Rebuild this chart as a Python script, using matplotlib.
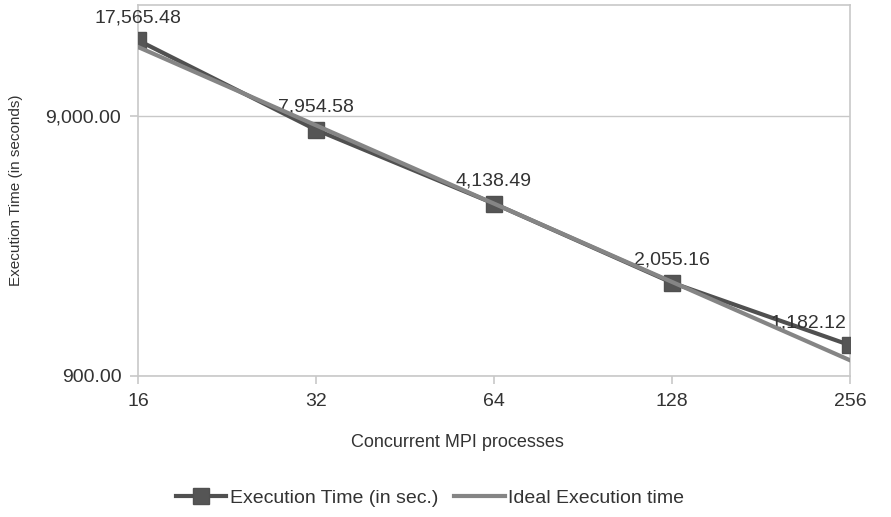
import matplotlib
matplotlib.use("Agg")
from matplotlib import pyplot as plt
from matplotlib.ticker import FixedLocator, FuncFormatter, NullLocator

# data
procs = [16, 32, 64, 128, 256]
exec_time = [17565.48, 7954.58, 4138.49, 2055.16, 1182.12]
ideal_time = [16553.96, 8276.98, 4138.49, 2069.25, 1034.62]
y_ticks = [900, 9000]

plt.rcParams['font.family'] = ['Liberation Sans', 'DejaVu Sans']

fig = plt.figure(figsize=(8.91, 5.17), dpi=100)
ax = fig.add_axes([138/891, 1-376/517, (850-138)/891, (376-5)/517])

ax.plot(procs, exec_time, color='#505050', lw=3, marker='s', ms=11,
        mfc='#555555', mec='#505050', label='Execution Time (in sec.)', zorder=3)
ax.plot(procs, ideal_time, color='#858585', lw=3, label='Ideal Execution time', zorder=4)

ax.set_xscale('log', base=2)
ax.set_yscale('log')
ax.set_xlim(16, 256)
ax.set_ylim(900, 24000)

ax.xaxis.set_major_locator(FixedLocator(procs))
ax.xaxis.set_minor_locator(NullLocator())
ax.xaxis.set_major_formatter(FuncFormatter(lambda v, p: '%d' % v))
ax.yaxis.set_major_locator(FixedLocator(y_ticks))
ax.yaxis.set_minor_locator(NullLocator())
ax.yaxis.set_major_formatter(FuncFormatter(lambda v, p: '{:,.2f}'.format(v)))

ax.grid(axis='y', color='#c8c8c8', lw=1)
for s in ax.spines.values():
    s.set_color('#c8c8c8')
    s.set_linewidth(1.2)
ax.tick_params(axis='both', colors='#c8c8c8', labelcolor='#333333', labelsize=14, length=6, width=1.2)
ax.tick_params(axis='x', pad=6)
ax.tick_params(axis='y', pad=6)

for i, (x, y) in enumerate(zip(procs, exec_time)):
    dx = -30 if i == len(procs) - 1 else 0
    ax.annotate('{:,.2f}'.format(y), (x, y), xytext=(dx, 10), textcoords='offset points',
                ha='center', va='bottom', fontsize=14, color='#333333', annotation_clip=False)

ax.set_xlabel('Concurrent MPI processes', fontsize=13, color='#333333')
ax.xaxis.set_label_coords((457-138)/(850-138), -(434-376)/(376-5))
ax.set_ylabel('Execution Time (in seconds)', fontsize=11, color='#333333')
ax.yaxis.set_label_coords(-(138-23)/(850-138), (376-190)/(376-5))

fig.legend(loc='center', bbox_to_anchor=(430/891, 1-498/517), ncol=2, frameon=False,
           fontsize=14, handlelength=2.6, columnspacing=0.8, handletextpad=0.2,
           labelcolor='#333333')

fig.savefig('out.png', dpi=100)
